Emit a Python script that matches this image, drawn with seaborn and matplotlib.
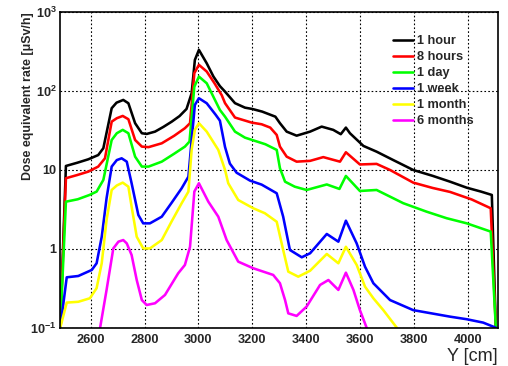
import numpy as np
import pandas as pd
import matplotlib
matplotlib.use("Agg")
import matplotlib.pyplot as plt
from matplotlib.lines import Line2D
from matplotlib.ticker import FixedLocator, FuncFormatter, NullFormatter
import seaborn as sns

# Cooling times and their line colours
labels = ["1 hour", "8 hours", "1 day", "1 week", "1 month", "6 months"]
colors = ["#000000", "#ff0000", "#00ff00", "#0000ff", "#ffff00", "#ff00ff"]

# Dose equivalent rate [uSv/h] versus Y [cm] for each cooling time
pos_1hour = [2487, 2508, 2550, 2591, 2628, 2647, 2678, 2696, 2721, 2740, 2765, 2790,
             2808, 2839, 2870, 2901, 2930, 2956, 2975, 2987, 3002, 3031, 3056, 3080,
             3099, 3136, 3173, 3200, 3237, 3286, 3303, 3328, 3365, 3415, 3458, 3501,
             3529, 3548, 3563, 3613, 3662, 3724, 3798, 3870, 3935, 3997, 4050, 4090, 4105]
rate_1hour = [0.1, 11.2, 12.3, 13.6, 15.4, 18.8, 60.4, 71, 76.9, 69.8, 39, 29.1,
              28.5, 30.5, 35, 40.8, 48, 59.1, 93.5, 247, 331, 224, 152, 115,
              98, 70, 61.4, 59.1, 54.7, 47.2, 39, 30.5, 27.1, 30.5, 35.3, 32.1,
              28.3, 34.3, 29.1, 20.1, 17.0, 13.3, 9.96, 8.4, 7.08, 5.94, 5.3, 4.81, 0.1]

pos_8hours = [2487, 2508, 2550, 2591, 2628, 2653, 2678, 2697, 2719, 2740, 2765, 2790,
              2815, 2864, 2910, 2950, 2969, 2985, 3002, 3031, 3060, 3087, 3099, 3136,
              3198, 3235, 3267, 3291, 3303, 3328, 3365, 3415, 3464, 3526, 3548, 3600,
              3662, 3712, 3798, 3870, 3935, 4015, 4086, 4105]
rate_8hours = [0.1, 7.83, 8.6, 9.49, 11.0, 14.0, 40.8, 45.1, 48.2, 43.8, 23.9, 19.7,
               19.4, 21.7, 27, 33.7, 39, 168, 214, 176, 125, 88, 70, 46,
               39.7, 37.8, 34.3, 27.7, 19.7, 14.7, 12.7, 13.0, 14.5, 12.7, 16.7, 11.7,
               11.9, 9.96, 6.89, 5.9, 5.25, 4.22, 3.26, 0.1]

pos_1day = [2487, 2508, 2552, 2596, 2622, 2647, 2678, 2697, 2719, 2740, 2765, 2790,
            2815, 2864, 2910, 2950, 2967, 2985, 3002, 3031, 3080, 3099, 3136, 3173,
            3200, 3249, 3291, 3303, 3322, 3358, 3402, 3477, 3524, 3548, 3600, 3662,
            3761, 3848, 3922, 3997, 4086, 4105]
rate_1day = [0.1, 3.95, 4.24, 4.81, 5.3, 7.45, 23.9, 29.1, 32.1, 29.1, 14.7, 11.0,
             11.0, 12.7, 16, 19.7, 22.8, 113, 152, 125, 57.4, 47.2, 30.5, 25.6,
             23.9, 21.1, 17.9, 10.5, 7.08, 6.12, 5.56, 6.53, 5.73, 8.37, 5.4, 5.56,
             3.78, 2.95, 2.44, 2.10, 1.65, 0.1]

pos_1week = [2487, 2511, 2554, 2604, 2622, 2641, 2659, 2678, 2697, 2715, 2734, 2752,
             2777, 2795, 2820, 2864, 2900, 2938, 2963, 2975, 2987, 3002, 3031, 3064,
             3080, 3099, 3117, 3142, 3192, 3235, 3291, 3315, 3340, 3384, 3415, 3477,
             3520, 3548, 3588, 3619, 3650, 3712, 3798, 3935, 3997, 4058, 4105]
rate_1week = [0.1, 0.435, 0.452, 0.539, 0.655, 1.42, 4.37, 11.0, 13.3, 14.0, 12.7, 6.76,
              2.68, 2.10, 2.10, 2.55, 3.8, 5.85, 8.2, 23.9, 66.5, 80.8, 69.8, 50,
              42, 19.5, 12, 9.2, 7.3, 6.5, 5.05, 2.55, 0.966, 0.78, 0.877, 1.54,
              1.23, 2.27, 1.17, 0.593, 0.366, 0.224, 0.167, 0.138, 0.128, 0.116, 0.1]

pos_1month = [2487, 2511, 2554, 2597, 2622, 2641, 2659, 2678, 2697, 2719, 2740, 2752,
              2771, 2795, 2820, 2864, 2900, 2938, 2963, 2975, 2987, 3002, 3031, 3074,
              3099, 3111, 3148, 3204, 3247, 3291, 3315, 3334, 3371, 3415, 3477, 3520,
              3548, 3588, 3619, 3650, 3687, 3737, 3760]
rate_1month = [0.1, 0.208, 0.213, 0.236, 0.317, 0.655, 2.32, 5.56, 6.34, 6.89, 6.12, 3.42,
               1.42, 1.01, 1.01, 1.29, 2.2, 3.78, 5.3, 17.9, 32.1, 39, 30.5, 17.9,
               10, 6.76, 4.15, 3.26, 2.82, 2.20, 0.966, 0.513, 0.443, 0.527, 0.859, 0.655,
               1.06, 0.624, 0.331, 0.236, 0.167, 0.1, 0.07]

pos_6months = [2612, 2635, 2659, 2684, 2703, 2721, 2734, 2752, 2771, 2790, 2808, 2839,
               2876, 2925, 2950, 2969, 2985, 3002, 3037, 3074, 3105, 3148, 3204, 3278,
               3303, 3322, 3334, 3365, 3402, 3452, 3483, 3520, 3548, 3576, 3600, 3625, 3645]
rate_6months = [0.04, 0.1, 0.301, 1.01, 1.23, 1.29, 1.17, 0.834, 0.402, 0.224, 0.194, 0.204,
                0.26, 0.489, 0.624, 1.06, 5.3, 6.76, 3.95, 2.55, 1.29, 0.687, 0.566, 0.466,
                0.366, 0.224, 0.152, 0.141, 0.185, 0.348, 0.402, 0.301, 0.498, 0.301, 0.167, 0.1, 0.06]

x_ticks = [2600, 2800, 3000, 3200, 3400, 3600, 3800, 4000]
y_ticks = [0.1, 1, 10, 100, 1000]

positions = [pos_1hour, pos_8hours, pos_1day, pos_1week, pos_1month, pos_6months]
rates = [rate_1hour, rate_8hours, rate_1day, rate_1week, rate_1month, rate_6months]
df = pd.concat(
    [pd.DataFrame({"Y": p, "rate": r, "cooling": lab})
     for p, r, lab in zip(positions, rates, labels)],
    ignore_index=True,
)

sns.set_style("white")
plt.rcParams["font.family"] = ["Liberation Sans", "DejaVu Sans"]
plt.rcParams["mathtext.fontset"] = "custom"
plt.rcParams["mathtext.rm"] = "Liberation Sans:bold"
plt.rcParams["mathtext.bf"] = "Liberation Sans:bold"
plt.rcParams["mathtext.it"] = "Liberation Sans:bold"

W, H = 508, 366
LW = 1.85
fig = plt.figure(figsize=(W / 100, H / 100), dpi=100)
ax = fig.add_axes([60 / W, 1 - 327.7 / H, (498 - 60) / W, (327.7 - 12) / H])
ax.set_yscale("log")

sns.lineplot(data=df, x="Y", y="rate", hue="cooling", hue_order=labels,
             palette=colors, estimator=None, sort=False, linewidth=LW,
             legend=False, ax=ax)
for ln in ax.get_lines():
    ln.set_solid_joinstyle("round")
    ln.set_solid_capstyle("round")

ax.set_xlim(2486, 4113)
ax.set_ylim(0.1, 1000)

ax.xaxis.set_major_locator(FixedLocator(x_ticks))
ax.yaxis.set_major_locator(FixedLocator(y_ticks))
minor = [m * 10.0 ** e for e in range(-1, 3) for m in range(2, 10)]
ax.yaxis.set_minor_locator(FixedLocator(minor))
ax.yaxis.set_minor_formatter(NullFormatter())


def decade_label(v, pos):
    e = int(round(np.log10(v)))
    if e in (0, 1):
        return f"{int(round(v))}"
    return r"$\mathbf{10^{%d}}$" % e


ax.yaxis.set_major_formatter(FuncFormatter(decade_label))

ax.tick_params(axis="x", which="both", length=0, pad=4.5, labelsize=9.2)
ax.tick_params(axis="y", which="major", direction="in", length=6, width=1, pad=2.5,
               labelsize=9.2)
ax.tick_params(axis="y", which="minor", direction="in", length=3.5, width=1)
for lab in ax.get_xticklabels() + ax.get_yticklabels():
    lab.set_fontweight("bold")

ax.grid(True, which="major", color="black", linestyle=(0, (1.5, 2)), linewidth=0.8)
for s in ax.spines.values():
    s.set_color("black")
    s.set_linewidth(1.2)

ax.set_ylabel("Dose equivalent rate [\u03bcSv/h]", fontsize=8.9, fontweight="bold",
              loc="top")
ax.yaxis.set_label_coords(-0.0605, 1.0)
ax.set_xlabel("Y [cm]", fontsize=13, loc="right")
ax.xaxis.set_label_coords(1.0, -0.063)

handles = [Line2D([], [], color=c, linewidth=LW) for c in colors]
ax.legend(handles, labels, loc="upper left",
          bbox_to_anchor=(392.7 / W, 1 - 35 / H), bbox_transform=fig.transFigure,
          frameon=False, prop={"weight": "bold", "size": 9.2},
          handlelength=1.6, handletextpad=0.27, labelspacing=0.32,
          borderpad=0, borderaxespad=0)

fig.savefig("out.png", dpi=100)
